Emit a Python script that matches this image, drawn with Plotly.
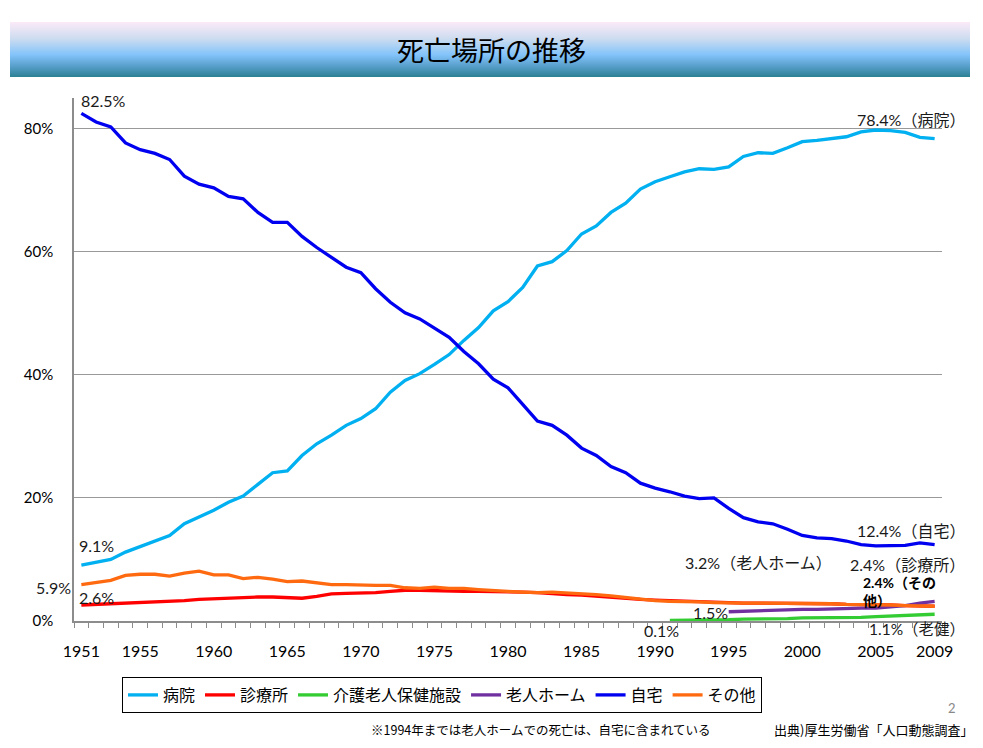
import plotly.graph_objects as go

years = list(range(1951, 2010))

hospital = [9.1, 9.5, 10.0, 11.2, 12.1, 12.9, 13.9, 15.8, 16.9, 18.0,
            19.3, 20.3, 22.2, 24.1, 24.4, 26.9, 28.8, 30.2, 31.8, 32.9,
            34.5, 37.2, 39.1, 40.2, 41.7, 43.3, 45.6, 47.7, 50.4, 51.9,
            54.2, 57.7, 58.4, 60.2, 62.9, 64.2, 66.4, 67.9, 70.2, 71.4,
            72.2, 73.0, 73.5, 73.4, 73.8, 75.5, 76.1, 76.0, 76.9, 77.9,
            78.1, 78.4, 78.7, 79.5, 79.8, 79.7, 79.4, 78.6, 78.4]

clinic = [2.6, 2.7, 2.7, 2.9, 3.0, 3.1, 3.1, 3.3, 3.5, 3.6,
          3.8, 3.8, 3.9, 3.9, 3.8, 3.7, 4.0, 4.4, 4.5, 4.5,
          4.6, 4.8, 5.0, 5.0, 4.9, 4.8, 4.8, 4.8, 4.8, 4.8,
          4.7, 4.6, 4.4, 4.3, 4.2, 4.0, 3.9, 3.7, 3.5, 3.4,
          3.3, 3.2, 3.1, 3.0, 3.0, 2.9, 2.9, 2.9, 2.8, 2.8,
          2.8, 2.8, 2.7, 2.7, 2.6, 2.6, 2.5, 2.5, 2.4]

roken_years = list(range(1991, 2010))
roken = [0.1, 0.1, 0.2, 0.2, 0.2, 0.3, 0.3, 0.4, 0.4, 0.5,
         0.5, 0.5, 0.6, 0.6, 0.7, 0.8, 0.9, 1.0, 1.1]

nh_years = list(range(1995, 2010))
nursing_home = [1.5, 1.6, 1.6, 1.7, 1.8, 1.9, 1.9, 2.0, 2.0, 2.1,
                2.1, 2.3, 2.5, 2.9, 3.2]

home = [82.5, 81.1, 80.3, 77.7, 76.6, 76.0, 75.0, 72.3, 71.0, 70.4,
        69.0, 68.6, 66.4, 64.8, 64.8, 62.5, 60.7, 59.1, 57.5, 56.6,
        54.0, 51.8, 50.1, 49.1, 47.6, 46.1, 43.8, 41.8, 39.3, 37.9,
        35.2, 32.5, 31.8, 30.2, 28.1, 26.9, 25.1, 24.1, 22.4, 21.6,
        21.0, 20.3, 19.9, 20.0, 18.3, 16.8, 16.1, 15.8, 14.9, 13.9,
        13.5, 13.4, 13.0, 12.4, 12.2, 12.2, 12.3, 12.7, 12.4]

other = [5.9, 6.2, 6.6, 7.4, 7.6, 7.6, 7.3, 7.8, 8.1, 7.5,
         7.5, 6.9, 7.1, 6.8, 6.4, 6.5, 6.2, 5.9, 5.9, 5.8,
         5.8, 5.8, 5.4, 5.3, 5.5, 5.3, 5.3, 5.1, 4.9, 4.8,
         4.7, 4.6, 4.7, 4.6, 4.4, 4.3, 4.1, 3.8, 3.5, 3.3,
         3.2, 3.2, 3.1, 3.0, 2.9, 2.9, 2.9, 2.9, 2.8, 2.8,
         2.8, 2.8, 2.7, 2.7, 2.6, 2.6, 2.5, 2.5, 2.4]

x_tick_years = [1951, 1955, 1960, 1965, 1970, 1975, 1980, 1985, 1990, 1995, 2000, 2005, 2009]
y_tick_vals = [0, 20, 40, 60, 80]
y_tick_text = ["0%", "20%", "40%", "60%", "80%"]

names = ["病院", "診療所", "介護老人保健施設", "老人ホーム", "自宅", "その他"]
colors = ["#00B0F0", "#FF0000", "#33CC33", "#7030A0", "#0000F0", "#FF6A10"]

W, H = 983, 748
L, R, T, B = 74, 41, 98, 127
PW, PH = W - L - R, H - T - B

def px2x(px):
    return (px - L) / PW

def py2y(py):
    return (H - B - py) / PH

NUM = "Lato, 'Noto Sans CJK JP', sans-serif"
JP = "'Noto Sans CJK JP', sans-serif"

fig = go.Figure()
series = [(years, hospital), (years, clinic), (roken_years, roken),
          (nh_years, nursing_home), (years, home), (years, other)]
for (xs, ys), nm, c in zip(series, names, colors):
    fig.add_trace(go.Scatter(x=xs, y=ys, mode="lines", name=nm,
                             line=dict(color=c, width=3.3), hoverinfo="skip"))

shapes = []
# gradient title banner
stops = [(0.0, (250, 234, 247)), (0.3, (205, 220, 240)), (0.6, (130, 195, 250)),
         (0.8, (90, 160, 205)), (1.0, (45, 130, 150))]
def grad(t):
    for (t0, c0), (t1, c1) in zip(stops[:-1], stops[1:]):
        if t0 <= t <= t1:
            f = (t - t0) / (t1 - t0)
            return "rgb(%d,%d,%d)" % tuple(round(a + (b - a) * f) for a, b in zip(c0, c1))
    return "rgb(%d,%d,%d)" % stops[-1][1]
top, bot = 22, 77
n = bot - top
for i in range(n):
    shapes.append(dict(type="rect", xref="paper", yref="paper",
                       x0=px2x(10), x1=px2x(970), y0=py2y(top + i + 1), y1=py2y(top + i),
                       fillcolor=grad(i / (n - 1)), line=dict(width=0), layer="below"))
fig.update_layout(shapes=shapes)

ann = []
def lab(text, x, y, xanchor="left", size=16, bold=False, color="#1a1a1a", family=NUM, align="left"):
    if bold:
        text = "<b>" + text + "</b>"
    ann.append(dict(text=text, x=px2x(x), y=py2y(y), xref="paper", yref="paper",
                    xanchor=xanchor, yanchor="middle", showarrow=False, align=align,
                    font=dict(size=size, color=color, family=family)))

lab("死亡場所の推移", 491, 50, xanchor="center", size=27, color="#000000", family=JP)
lab("82.5%", 79, 101)
lab("78.4%（病院）", 967, 120, xanchor="right")
lab("12.4%（自宅）", 967, 530, xanchor="right")
lab("3.2%（老人ホーム）", 683, 562)
lab("2.4%（診療所）", 967, 564, xanchor="right")
lab("2.4%（その<br>他）", 861, 591, size=14, bold=True, color="#000000")
lab("1.5%", 691, 612)
lab("0.1%", 642, 630)
lab("1.1%（老健）", 967, 629, xanchor="right", size=15.5)
lab("9.1%", 77, 545)
lab("5.9%", 73, 587, xanchor="right")
lab("2.6%", 77, 597)
lab("2", 946, 708, size=13, color="#888888")
lab("※1994年までは老人ホームでの死亡は、自宅に含まれている", 369, 729, size=12.5, color="#000000", family=JP)
lab("出典)厚生労働省「人口動態調査」", 975, 729, xanchor="right", size=13, color="#000000", family=JP)

fig.update_layout(
    annotations=ann,
    width=W, height=H,
    margin=dict(l=L, r=R, t=T, b=B, pad=0),
    paper_bgcolor="white", plot_bgcolor="white",
    showlegend=True,
    legend=dict(orientation="h", x=px2x(122), y=py2y(677), xanchor="left", yanchor="top",
                bordercolor="#000000", borderwidth=1, bgcolor="white",
                font=dict(size=16, family=JP, color="#000000"), itemwidth=30,
                traceorder="normal"),
    xaxis=dict(range=[1950.5, 2009.5], tickmode="array", tickvals=x_tick_years,
               ticktext=[str(v) for v in x_tick_years],
               ticks="outside", ticklen=15, tickcolor="rgba(0,0,0,0)",
               showgrid=False, zeroline=False, showline=True, linecolor="#8c8c8c", linewidth=1.5,
               tickfont=dict(size=16, family=NUM, color="#000000"),
               minor=dict(tickmode="linear", tick0=1950.5, dtick=1, ticks="outside",
                          ticklen=5, tickcolor="#8c8c8c", tickwidth=1, showgrid=False)),
    yaxis=dict(range=[0, 85], tickmode="array", tickvals=y_tick_vals, ticktext=y_tick_text,
               ticks="outside", ticklen=16, tickcolor="rgba(0,0,0,0)",
               showgrid=True, gridcolor="#999999", gridwidth=1.2, zeroline=False,
               showline=True, linecolor="#8c8c8c", linewidth=1.5,
               tickfont=dict(size=15, family=NUM, color="#000000")),
)

fig.write_html("out.html")
